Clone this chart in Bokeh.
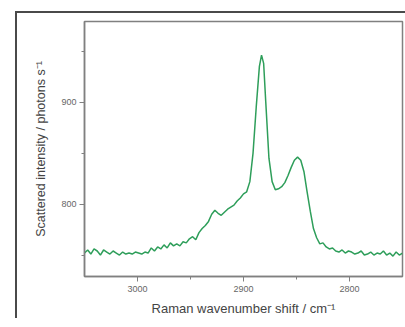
from bokeh.plotting import figure
from bokeh.models import Range1d, FixedTicker
from bokeh.embed import file_html
from bokeh.resources import INLINE

wavenumber = [3050, 3047, 3044, 3041, 3038, 3035, 3032, 3029, 3026, 3023, 3020, 3017, 3014, 3011, 3008, 3005,
              3002, 2999, 2996, 2993, 2990, 2987, 2984, 2981, 2978, 2975, 2972, 2969, 2966, 2963, 2960, 2957,
              2954, 2951, 2948, 2945, 2942, 2939, 2936, 2933, 2930, 2927, 2924, 2921, 2918, 2915, 2912, 2909,
              2906, 2903, 2900, 2897, 2894, 2891, 2888, 2885, 2883, 2881, 2879, 2876, 2873, 2870, 2867, 2864,
              2861, 2858, 2855, 2852, 2849, 2846, 2843, 2840, 2837, 2834, 2831, 2828, 2825, 2822, 2819, 2816,
              2813, 2810, 2807, 2804, 2801, 2798, 2795, 2792, 2789, 2786, 2783, 2780, 2777, 2774, 2771, 2768,
              2765, 2762, 2759, 2756, 2753, 2750]
intensity = [752, 755, 751, 756, 754, 750, 755, 753, 751, 754, 752, 750, 753, 751, 752, 751,
             753, 752, 751, 753, 752, 757, 754, 758, 756, 760, 757, 762, 759, 761, 759, 763,
             762, 766, 768, 765, 772, 776, 779, 783, 790, 794, 791, 789, 792, 795, 797, 799,
             803, 806, 810, 812, 822, 850, 895, 935, 946, 938, 900, 845, 822, 814, 815, 817,
             821, 828, 836, 843, 846, 843, 832, 812, 793, 776, 767, 761, 762, 758, 756, 757,
             754, 753, 755, 752, 754, 753, 751, 752, 754, 750, 751, 753, 750, 752, 751, 754,
             750, 752, 749, 753, 750, 752]

x_ticks = [3000, 2900, 2800]
x_minor = [2950, 2850]
y_ticks = [800, 900]
y_minor = [750, 850, 950]
x_label = "Raman wavenumber shift / cm\u207b\u00b9"
y_label = "Scattered intensity / photons s\u207b\u00b9"

FONT = "Liberation Sans"

p = figure(frame_width=318, frame_height=255, output_backend="svg", toolbar_location=None,
           x_range=Range1d(3050, 2750), y_range=Range1d(729, 979),
           min_border_left=67, min_border_right=3, min_border_top=8, min_border_bottom=40)
p.styles = {"margin-left": "15px", "margin-top": "11px",
            "border-left": "2px solid #4a4a4a", "border-top": "2px solid #4a4a4a"}

p.line(wavenumber, intensity, line_color="#2e9e5a", line_width=1.5)

p.grid.visible = False
p.outline_line_color = "#808080"
p.outline_line_width = 1.5

for ax in (p.xaxis[0], p.yaxis[0]):
    ax.axis_line_color = "#808080"
    ax.axis_line_width = 1.5
    ax.major_tick_line_color = "#808080"
    ax.minor_tick_line_color = "#808080"
    ax.major_tick_in = 0
    ax.major_tick_out = 5
    ax.minor_tick_in = 0
    ax.minor_tick_out = 3
    ax.major_label_text_font = FONT
    ax.major_label_text_font_size = "9px"
    ax.major_label_text_color = "#666666"
    ax.axis_label_text_font = FONT
    ax.axis_label_text_font_style = "normal"
    ax.axis_label_text_color = "#444444"

p.xaxis.ticker = FixedTicker(ticks=x_ticks, minor_ticks=x_minor)
p.yaxis.ticker = FixedTicker(ticks=y_ticks, minor_ticks=y_minor)
p.xaxis.axis_label = x_label
p.yaxis.axis_label = y_label
p.xaxis.axis_label_text_font_size = "13px"
p.yaxis.axis_label_text_font_size = "12.5px"
p.xaxis.major_label_standoff = 4
p.yaxis.major_label_standoff = 3
p.xaxis.axis_label_standoff = 6
p.yaxis.axis_label_standoff = 10

open("out.html", "w").write(file_html(p, INLINE))
